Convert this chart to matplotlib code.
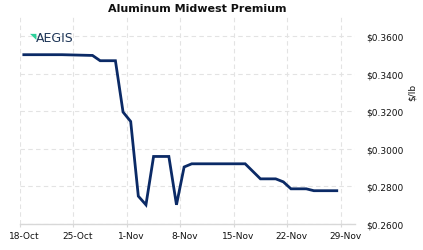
import matplotlib
matplotlib.use('Agg')
import matplotlib.pyplot as plt
import matplotlib.dates as mdates
import matplotlib.transforms as mtransforms
import pandas as pd

# Aluminum Midwest Premium, $/lb (vertices)
dates = ['2021-10-18', '2021-10-23', '2021-10-27', '2021-10-28', '2021-10-30',
         '2021-10-31', '2021-11-01', '2021-11-02', '2021-11-03', '2021-11-04',
         '2021-11-06', '2021-11-07', '2021-11-08', '2021-11-09', '2021-11-16',
         '2021-11-18', '2021-11-20', '2021-11-21', '2021-11-22', '2021-11-24',
         '2021-11-25', '2021-11-28']
prices = [0.3500, 0.3500, 0.3496, 0.3468, 0.3468,
          0.3195, 0.3145, 0.2748, 0.2702, 0.2959,
          0.2959, 0.2702, 0.2903, 0.2920, 0.2920,
          0.2840, 0.2840, 0.2824, 0.2787, 0.2787,
          0.2777, 0.2777]

tick_dates = ['2021-10-18', '2021-10-25', '2021-11-01', '2021-11-08',
              '2021-11-15', '2021-11-22', '2021-11-29']
y_ticks = [0.26, 0.28, 0.30, 0.32, 0.34, 0.36]

x = pd.to_datetime(dates) + pd.Timedelta(hours=12)
xt = pd.to_datetime(tick_dates)

fig = plt.figure(figsize=(4.23, 2.51), dpi=100)
ax = fig.add_axes([0.0473, 0.1036, 0.7917, 0.8244])

ax.plot(x, prices, color='#0b2a66', linewidth=2.0, solid_joinstyle='miter')

ax.set_xlim(pd.Timestamp('2021-10-18'), pd.Timestamp('2021-12-01') - pd.Timedelta(hours=3))
ax.set_ylim(0.26, 0.37)

ax.set_xticks(xt)
ax.xaxis.set_major_formatter(mdates.DateFormatter('%-d-%b'))
ax.set_yticks(y_ticks)
ax.set_yticklabels(['$%.4f' % v for v in y_ticks])
ax.yaxis.tick_right()
ax.yaxis.set_label_position('right')

ax.tick_params(axis='x', labelsize=6.5, length=2.5, color='#d8d8d8', pad=2.5, labelcolor='#111111')
ax.tick_params(axis='y', labelsize=6.5, length=0, pad=8, labelcolor='#111111')

# x labels sit a little right of their ticks in the original
shift = mtransforms.ScaledTranslation(4.5 / 100, 0, fig.dpi_scale_trans)
for lbl in ax.get_xticklabels():
    lbl.set_transform(lbl.get_transform() + shift)

ax.grid(True, color='#e3e3e3', linestyle=(0, (4, 3)), linewidth=0.8)
for s in ['top', 'left', 'right']:
    ax.spines[s].set_visible(False)
ax.spines['bottom'].set_color('#d8d8d8')
ax.spines['bottom'].set_linewidth(1.0)

fig.text(0.466, 0.964, 'Aluminum Midwest Premium', ha='center', va='center',
         fontsize=8, fontweight='bold', color='#111111')
fig.text(0.974, 0.63, '$/lb', rotation=90, ha='center', va='center',
         fontsize=6.5, color='#111111')

# logo
fig.text(0.072, 0.856, '\u25e5', ha='left', va='center', fontsize=6, color='#2ccf9a')
fig.text(0.085, 0.848, 'AEGIS', ha='left', va='center', fontsize=9,
         color='#1d3557', family='DejaVu Sans')

fig.savefig('out.png', dpi=100)
